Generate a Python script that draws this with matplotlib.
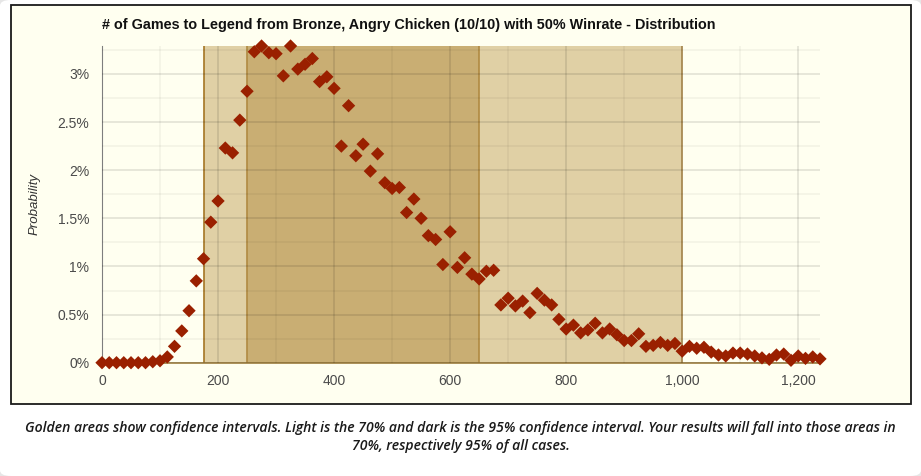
import matplotlib.pyplot as plt
from matplotlib.patches import FancyBboxPatch, Rectangle
from matplotlib.ticker import FuncFormatter, MultipleLocator

# probability (%) for each bin of games, bins are 12.5 games wide starting at 0
probability = [
    0.00, 0.00, 0.00, 0.00, 0.00, 0.00, 0.00, 0.01, 0.02, 0.06,
    0.17, 0.33, 0.54, 0.85, 1.08, 1.46, 1.68, 2.23, 2.18, 2.52,
    2.82, 3.23, 3.29, 3.22, 3.21, 2.98, 3.29, 3.05, 3.10, 3.16,
    2.92, 2.97, 2.85, 2.25, 2.67, 2.15, 2.27, 1.99, 2.17, 1.87,
    1.81, 1.82, 1.56, 1.70, 1.50, 1.32, 1.28, 1.02, 1.36, 0.99,
    1.09, 0.92, 0.87, 0.95, 0.96, 0.60, 0.67, 0.59, 0.64, 0.52,
    0.72, 0.65, 0.60, 0.45, 0.35, 0.39, 0.31, 0.34, 0.41, 0.31,
    0.35, 0.29, 0.23, 0.23, 0.30, 0.17, 0.18, 0.21, 0.18, 0.20,
    0.12, 0.17, 0.15, 0.16, 0.11, 0.08, 0.07, 0.10, 0.10, 0.09,
    0.07, 0.05, 0.035, 0.08, 0.09, 0.025, 0.07, 0.045, 0.06, 0.04,
]
bin_width = 12.5
games = [i * bin_width for i in range(len(probability))]

light_band = (175, 1000)   # 70% interval
dark_band = (250, 650)     # 95% interval

title = "# of Games to Legend from Bronze, Angry Chicken (10/10) with 50% Winrate - Distribution"
caption = ("Golden areas show confidence intervals. Light is the 70% and dark is the 95% confidence interval. "
           "Your results will fall into those areas in\n70%, respectively 95% of all cases.")

W, H = 921, 476
fig = plt.figure(figsize=(W / 100, H / 100), dpi=100)
fig.patch.set_facecolor('#e6e6e6')

# white card with rounded corners + ivory chart box
card = FancyBboxPatch((0, 0), 1, 1, boxstyle="round,pad=0,rounding_size=0.012",
                      transform=fig.transFigure, facecolor='white', edgecolor='none', zorder=-3)
fig.patches.append(card)
box = Rectangle((11 / W, 1 - 404 / H), 900 / W, 399 / H, transform=fig.transFigure,
                facecolor='#fffff0', edgecolor='#1a1a1a', lw=1.3, zorder=-2)
fig.patches.append(box)

ax = fig.add_axes([102 / W, 1 - 362.7 / H, 718 / W, 316.7 / H])
ax.set_facecolor('none')

ax.axvspan(*light_band, color='#e0d0a5', zorder=1, lw=0)
ax.axvspan(*dark_band, color='#c9ae73', zorder=1.1, lw=0)
ax.axvline(light_band[0], color='#a47524', lw=1.2, zorder=1.5)
ax.axvline(light_band[1], color='#b89455', lw=1.2, zorder=1.5)
ax.axvline(dark_band[0], color='#b08a42', lw=1.2, zorder=1.5)
ax.axvline(dark_band[1], color='#b08a42', lw=1.2, zorder=1.5)

ax.scatter(games, probability, marker='D', s=46, color='#9a2000', edgecolors='none', zorder=5, clip_on=False)

ax.set_xlim(0, 1237.5)
ax.set_ylim(0, 3.29)

ax.xaxis.set_major_locator(MultipleLocator(200))
ax.xaxis.set_minor_locator(MultipleLocator(100))
ax.yaxis.set_major_locator(MultipleLocator(0.5))
ax.yaxis.set_minor_locator(MultipleLocator(0.25))
ax.xaxis.set_major_formatter(FuncFormatter(lambda v, p: f"{int(v):,}"))
ax.yaxis.set_major_formatter(FuncFormatter(lambda v, p: f"{v:g}%"))

ax.grid(which='major', color='black', alpha=0.12, lw=1.1, zorder=2)
ax.grid(which='minor', color='black', alpha=0.05, lw=1.1, zorder=2)
ax.set_axisbelow(False)
for gl in ax.get_xgridlines() + ax.get_ygridlines():
    gl.set_zorder(2)

ax.tick_params(which='both', length=0)
ax.tick_params(axis='y', pad=9, labelsize=10, labelcolor='#4a4a4a')
ax.tick_params(axis='x', pad=8, labelsize=10, labelcolor='#4a4a4a')
for lab in ax.get_xticklabels() + ax.get_yticklabels():
    lab.set_family('Liberation Sans')

for s in ['top', 'right']:
    ax.spines[s].set_visible(False)
ax.spines['left'].set_color('#8c8c8c')
ax.spines['bottom'].set_color('#9c7d3e')
ax.spines['bottom'].set_linewidth(1.2)

ax.set_ylabel('Probability', fontstyle='italic', fontsize=9.5, color='#333333',
              family='Liberation Sans')
ax.yaxis.set_label_coords(-61 / 718, 0.5)

fig.text(102 / W, 1 - 25 / H, title, ha='left', va='center', fontsize=10.4, fontweight='bold',
         family='Liberation Sans', color='#111111')

fig.text(0.5, 1 - 437 / H, caption, ha='center', va='center', fontsize=10.1, fontstyle='italic',
         fontweight='semibold', family=['Open Sans', 'DejaVu Sans'], color='#1a1a1a',
         linespacing=1.35)

fig.savefig('out.png', dpi=100, facecolor=fig.get_facecolor())
